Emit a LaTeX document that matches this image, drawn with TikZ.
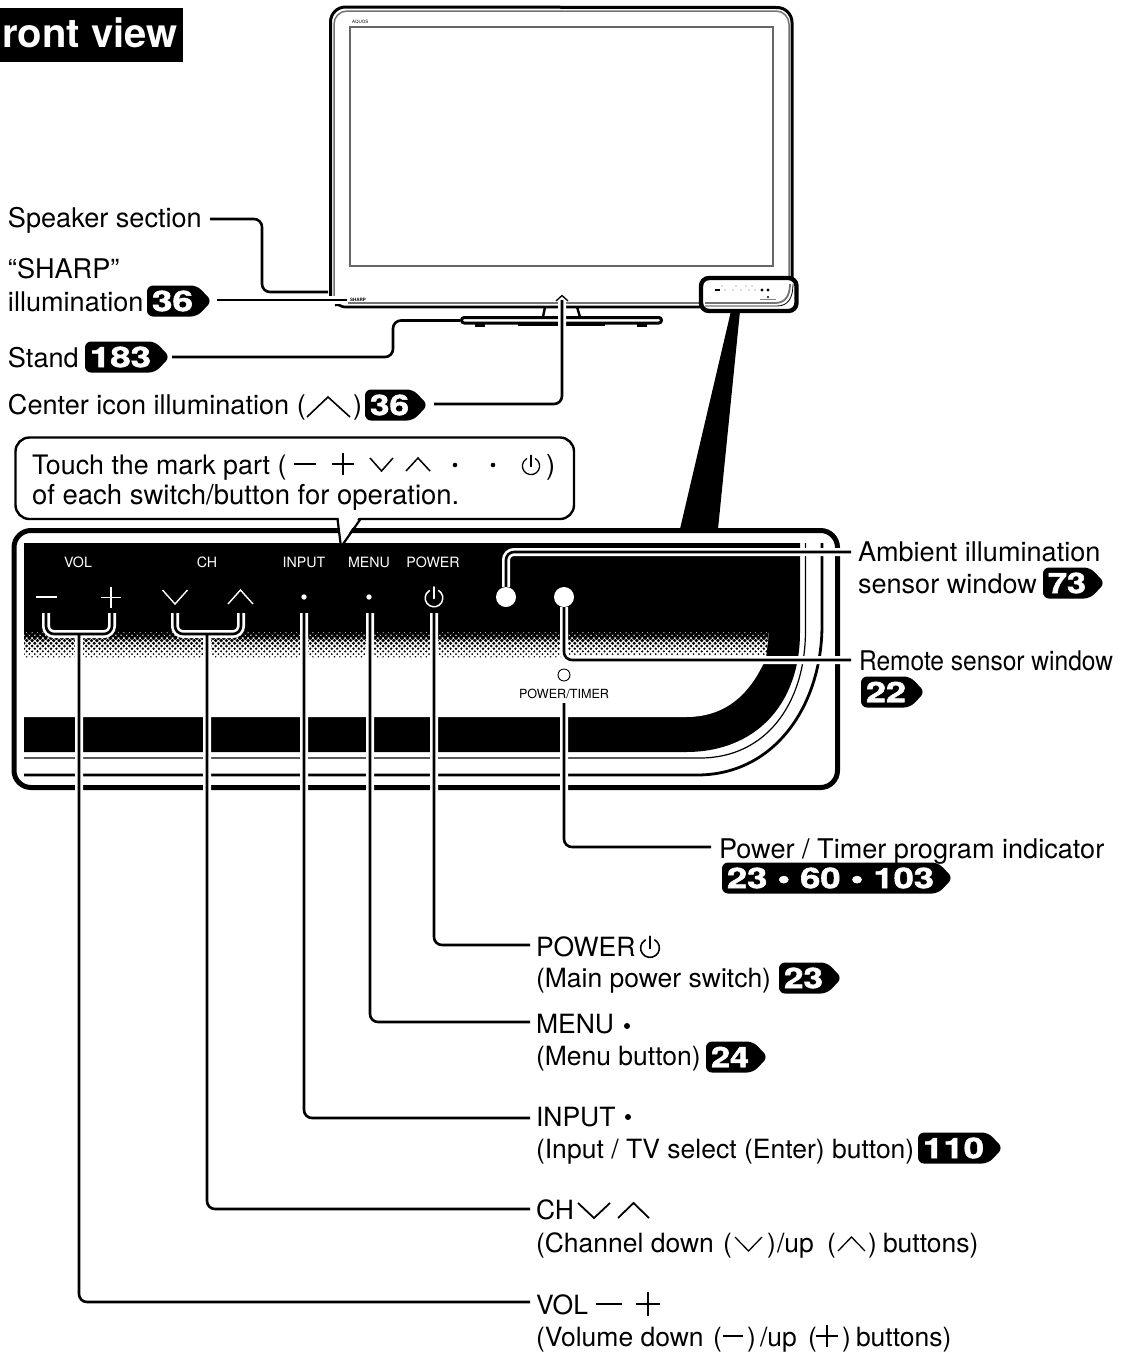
\documentclass[tikz,border=0pt]{standalone}
\usepackage{fontspec}
\setmainfont{TeX Gyre Heros}
\newfontfamily\badgefont[FakeBold=1.6]{TeX Gyre Heros}
\newcommand{\fsz}[1]{\fontsize{#1}{#1}\selectfont}
\tikzset{
  lbl/.style={anchor=base west,inner sep=0pt,outer sep=0pt,font=\fsz{27.1},text=black},
  llbl/.style={lbl,font=\fsz{26.5}},
  clbl/.style={lbl,font=\fsz{27.5}},
  plbl/.style={anchor=base,inner sep=0pt,outer sep=0pt,font=\fsz{14.2},text=white},
  wire/.style={draw=black,line width=2.6pt,rounded corners=8pt},
  cased/.style={wire,preaction={draw=white,line width=8pt,rounded corners=8pt}},
  tvout/.style={draw=black,line width=3pt},
  tvgray/.style={draw=black!55,line width=1.5pt},
  badgenum/.style={inner sep=0pt,outer sep=0pt,text=white},
}
% name, x1, x2, cy, text
\newcommand{\pagebadge}[5]{%
  \pgfmathsetmacro{\bxa}{#2}\pgfmathsetmacro{\bxb}{#3}\pgfmathsetmacro{\byc}{#4}%
  \pgfmathsetmacro{\bxm}{\bxb-15}\pgfmathsetmacro{\byt}{\byc-15.5}\pgfmathsetmacro{\byb}{\byc+15.5}%
  \pgfmathsetmacro{\btw}{\bxb-\bxa-24}\pgfmathsetmacro{\btc}{\bxa+5+\btw/2}%
  \fill[rounded corners=6pt] (\bxa,\byt) -- (\bxm,\byt) -- (\bxb,\byc) -- (\bxm,\byb) -- (\bxa,\byb) -- cycle;
  \node[badgenum] (#1) at (\btc,\byc) {\resizebox{\btw pt}{20.5pt}{\badgefont\bfseries #5}};%
}
% x, y, r
\newcommand{\powersym}[4]{%
  \draw[#4,line cap=round] ({#1+.5*#3},{#2-.866*#3}) arc (-60:240:#3);
  \draw[#4,line cap=round] (#1,{#2-1.25*#3}) -- (#1,{#2+.05*#3});
}
\newcommand{\chevdown}[5]{\draw[#5] (#1,#3) -- ({(#1+#2)/2},#4) -- (#2,#3);}
\newcommand{\chevup}[5]{\draw[#5] (#1,#4) -- ({(#1+#2)/2},#3) -- (#2,#4);}
\begin{document}
\begin{tikzpicture}[x=1pt,y=-1pt]
\useasboundingbox (0,0) rectangle (1124,1352);
\fill[white] (0,0) rectangle (1124,1352);

% title
\fill (0,8) rectangle (183,62);
\node[anchor=base west,inner sep=0pt,text=white,font=\fsz{40}\bfseries] (title) at (2,47) {ront view};

% ---- television
\draw[tvgray] (334,297) -- (334,24) arc (180:270:13) -- (776,11) arc (270:360:13) -- (789,297);
\draw[tvout] (330.5,297) -- (330.5,22) arc (180:270:15) -- (777,7.5) arc (270:360:15) -- (792,303);
\draw[draw=black!60,line width=1.5pt] (350,27) rectangle (773,266);
\node[anchor=base west,inner sep=0pt,font=\fsz{4.5}] (aquos) at (352,23) {AQUOS};
\node[anchor=base west,inner sep=0pt,font=\fsz{4.5}\bfseries] (sharpmark) at (350,301) {SHARP};
\draw[draw=black!55,line width=2.4pt] (348,303) -- (702,303);
\draw[line width=2.6pt] (335,305) to[out=20,in=180] (345,307) -- (702,307);
% neck
\draw[line width=2.4pt] (545,307) -- (543,317);
\draw[line width=2.4pt] (577,307) -- (580,317);
\fill (534,316) rectangle (544,319);
\fill (579,316) rectangle (589,319);
% stand
\draw[line width=3pt,fill=white,rounded corners=2.7pt] (461.5,317.5) rectangle (661.5,323);
\fill (475,323) rectangle (485,326.5);
\fill (637,323) rectangle (647,326.5);
\fill (518,322) rectangle (605,325.5);
% magnified area frame
\fill (731,311) -- (740,311) -- (718,529) -- (680,529) -- cycle;
\draw[line width=4.4pt,fill=white,rounded corners=8pt] (701,278) rectangle (796.5,311);
\draw[draw=black!55,line width=1.8pt] (705,303) -- (775,303) .. controls (785,303) and (790,296) .. (790,284);
\draw[line width=.8pt] (705,306) -- (777,306) .. controls (788,306) and (793,298) .. (793,284);
\fill (715,289) rectangle (720,290.5);
\foreach \mx/\my in {725/290,733/290,741/290,749/290,755/290,722/286,736/286,746/286,752/286} \fill[black!60] (\mx,\my) circle (.6);
\fill (762,290) circle (1.7) (768,290) circle (1.7) (768,297) circle (1.2);
\fill[black!50] (760,299) rectangle (776,300);
% center icon
\draw[line width=1.3pt] (556,301) -- (562,295.5) -- (568,301);

% ---- panel
\draw[line width=5pt,fill=white,rounded corners=17pt] (14,530.5) rectangle (837.5,787.5);
\fill (24,543) -- (800,543) -- (800,632) .. controls (800,705) and (755,752) .. (686,752) -- (24,752) -- cycle;
\fill[white] (24,632) -- (769,632) -- (766,658) .. controls (750,695) and (725,717) .. (686,717) -- (24,717) -- cycle;
\begin{scope}
  \clip (24,630) -- (769,630) -- (766,660) -- (24,660) -- cycle;
  \foreach \r in {0,...,9}{
    \pgfmathsetmacro{\dy}{632.5+2.7*\r}
    \pgfmathsetmacro{\dr}{2.35-0.17*\r}
    \pgfmathsetmacro{\dx}{24+2.7*mod(\r,2)}
    \fill \foreach \c in {0,...,139}{ ({\dx+5.4*\c},\dy) circle (\dr) };
  }
\end{scope}
\draw[line width=1.2pt] (24,758) -- (700,758) .. controls (765,758) and (805.5,705) .. (805.5,630) -- (805.5,543);
\draw[line width=2.8pt] (24,775) -- (697,775) .. controls (775,775) and (822,705) .. (822,625) -- (822,543);

% panel captions and marks
\node[plbl] (pVOL) at (78,567) {VOL};
\node[plbl] (pCH) at (207,567) {CH};
\node[plbl] (pINPUT) at (304,567) {INPUT};
\node[plbl] (pMENU) at (369,567) {MENU};
\node[plbl] (pPOWER) at (433,567) {POWER};
\draw[white,line width=2.4pt] (36,597) -- (57,597);
\draw[white,line width=1.6pt] (111,587) -- (111,608) (101,597.5) -- (121,597.5);
\chevdown{162.5}{187.5}{590}{604}{white,line width=1.4pt}
\chevup{228}{253}{590}{604}{white,line width=1.4pt}
\node[circle,fill=white,inner sep=0pt,minimum size=5.4pt] (dotInput) at (304,597) {};
\node[circle,fill=white,inner sep=0pt,minimum size=5.4pt] (dotMenu) at (369,597) {};
\powersym{434}{598}{8.8}{white,line width=1.5pt}
\node[circle,fill=white,inner sep=0pt,minimum size=20pt] (winAmb) at (506,597) {};
\node[circle,fill=white,inner sep=0pt,minimum size=20pt] (winRem) at (564,597) {};
\node[circle,draw=black,line width=.9pt,fill=white,inner sep=0pt,minimum size=12pt] (indic) at (564,675) {};
\node[anchor=base,inner sep=0pt,font=\fsz{12.6}] (pTimer) at (564,698) {POWER/TIMER};

% ---- connector end points
\coordinate (aSpk) at (210,219);
\coordinate (bSpk) at (328,292);
\coordinate (aSharp) at (217,300);
\coordinate (bSharp) at (347,300);
\coordinate (aStand) at (172,357);
\coordinate (bStand) at (460,320.5);
\coordinate (aIcon) at (434,404);
\coordinate (bIcon) at (562,300);
\coordinate (eAmb) at (851,552);
\coordinate (eRem) at (851,660);
\coordinate (sInd) at (564,703);
\coordinate (eInd) at (711,847);
\coordinate (ePow) at (530,945);
\coordinate (eMen) at (530,1022);
\coordinate (eInp) at (530,1118);
\coordinate (eCh) at (530,1209);
\coordinate (eVol) at (530,1302);
\coordinate (sPow) at (434,613);
\coordinate (sMen) at (370,613);
\coordinate (sInp) at (304,613);

\draw[wire] (aSpk) -- (262,219) -- (262,292) -- (bSpk);
\draw[cased,rounded corners=0pt] (aSharp) -- (bSharp);
\draw[wire] (aStand) -- (393,357) -- (393,320.5) -- (bStand);
\draw[cased] (bIcon) |- (aIcon);

\draw[cased] (winAmb.north) |- (eAmb);
\draw[cased] (winRem.south) |- (eRem);
\draw[cased] (sInd) |- (eInd);
\draw[cased] (sPow) |- (ePow);
\draw[cased] (sMen) |- (eMen);
\draw[cased] (sInp) |- (eInp);
\draw[cased] (175,613) -- (175,634) -- (241,634) -- (241,613) (207,634) |- (eCh);
\draw[cased] (46,613) -- (46,634) -- (112,634) -- (112,613) (79,634) |- (eVol);

% ---- callout
\draw[line width=2.4pt,fill=white,rounded corners=14pt] (15.5,437.5) rectangle (574,519);
\fill[white] (338.5,517) -- (341,546) -- (359,517) -- cycle;
\draw[line width=2.2pt] (337.5,519) -- (341,547) -- (360.5,519);
\node[clbl,font=\fsz{26.8}] (cA) at (32,474) {Touch the mark part (};
\node[clbl] (cA2) at (546,474) {)};
\node[clbl] (cB) at (32,504) {of each switch/button for operation.};
\draw[line width=2.6pt] (294,464) -- (316,464);
\draw[line width=1.7pt] (343,453) -- (343,475) (332,464) -- (354,464);
\chevdown{370}{393}{458}{471}{line width=1.5pt}
\chevup{406}{430}{458}{471}{line width=1.5pt}
\node[circle,fill=black,inner sep=0pt,minimum size=4.6pt] (cD1) at (455,465) {};
\node[circle,fill=black,inner sep=0pt,minimum size=4.6pt] (cD2) at (493,465) {};
\powersym{531}{466}{8.6}{line width=1.3pt}

% ---- left labels
\node[lbl] (tSpk) at (8,227) {Speaker section};
\node[lbl] (tSharp) at (8,278) {“SHARP”};
\node[lbl] (tIll) at (8,311) {illumination};
\pagebadge{b36a}{147}{212}{301}{36}
\node[lbl] (tStand) at (8,367) {Stand};
\pagebadge{b183}{85}{170}{357}{183}
\node[lbl] (tIcon) at (8,414) {Center icon illumination (};
\draw[line width=1.6pt] (307,417) -- (328,397) -- (350,417);
\node[lbl] (tIcon2) at (353,414) {)};
\pagebadge{b36b}{365}{428}{405}{36}

% ---- right labels
\node[lbl] (tAmb) at (858,561) {Ambient illumination};
\node[lbl] (tSen) at (858,593) {sensor window};
\pagebadge{b73}{1043}{1105}{583}{73}
\node[lbl] (tRem) at (859,670) {\scalebox{.906}[1]{Remote sensor window}};
\pagebadge{b22}{861}{925}{692}{22}
\node[lbl] (tInd) at (719,858) {Power / Timer program indicator};
\pagebadge{b236}{722}{953}{878}{23 • 60 • 103}

\node[llbl] (tPow) at (536,956) {POWER};
\powersym{650}{948}{9.4}{line width=1.6pt}
\node[llbl] (tPow2) at (536,987) {(Main power switch)};
\pagebadge{b23}{779}{842}{978}{23}
\node[llbl] (tMen) at (536,1033) {MENU};
\node[circle,fill=black,inner sep=0pt,minimum size=6pt] (tMenD) at (627,1026) {};
\node[llbl] (tMen2) at (536,1065) {(Menu button)};
\pagebadge{b24}{706}{768}{1057}{24}
\node[llbl] (tInp) at (536,1126) {INPUT};
\node[circle,fill=black,inner sep=0pt,minimum size=6pt] (tInpD) at (628,1117) {};
\node[llbl] (tInp2) at (536,1158) {(Input / TV select (Enter) button)};
\pagebadge{b110}{918}{1003}{1148}{110}

\node[llbl] (tCh) at (536,1219) {CH};
\chevdown{578}{610}{1203}{1218}{line width=1.8pt}
\chevup{618}{649}{1203}{1218}{line width=1.8pt}
\node[llbl] (tCh2) at (536,1252) {(Channel down};
\node[llbl] (tCh2b) at (723,1252) {(};
\chevdown{735}{762}{1237}{1251}{line width=1.3pt}
\node[llbl] (tCh3) at (767,1252) {)};
\node[llbl] (tCh3b) at (777,1252) {/up};
\node[llbl] (tCh3c) at (827,1252) {(};
\chevup{838}{865}{1237}{1251}{line width=1.3pt}
\node[llbl] (tCh4) at (868,1252) {)};
\node[llbl] (tCh4b) at (883,1252) {buttons)};

\node[llbl] (tVol) at (536,1314) {VOL};
\draw[line width=2.4pt] (596,1304) -- (622,1304);
\draw[line width=1.8pt] (648,1292) -- (648,1316) (636,1304) -- (660,1304);
\node[llbl] (tVol2) at (536,1346) {(Volume down};
\node[llbl] (tVol2b) at (713,1346) {(};
\draw[line width=1.3pt] (723,1336) -- (743,1336);
\node[llbl] (tVol3) at (747,1346) {)};
\node[llbl] (tVol3b) at (760,1346) {/up};
\node[llbl] (tVol3c) at (808,1346) {(};
\draw[line width=2pt] (827,1325) -- (827,1347) (816,1336) -- (838,1336);
\node[llbl] (tVol4) at (842,1346) {)};
\node[llbl] (tVol4b) at (856,1346) {buttons)};
\end{tikzpicture}
\end{document}
